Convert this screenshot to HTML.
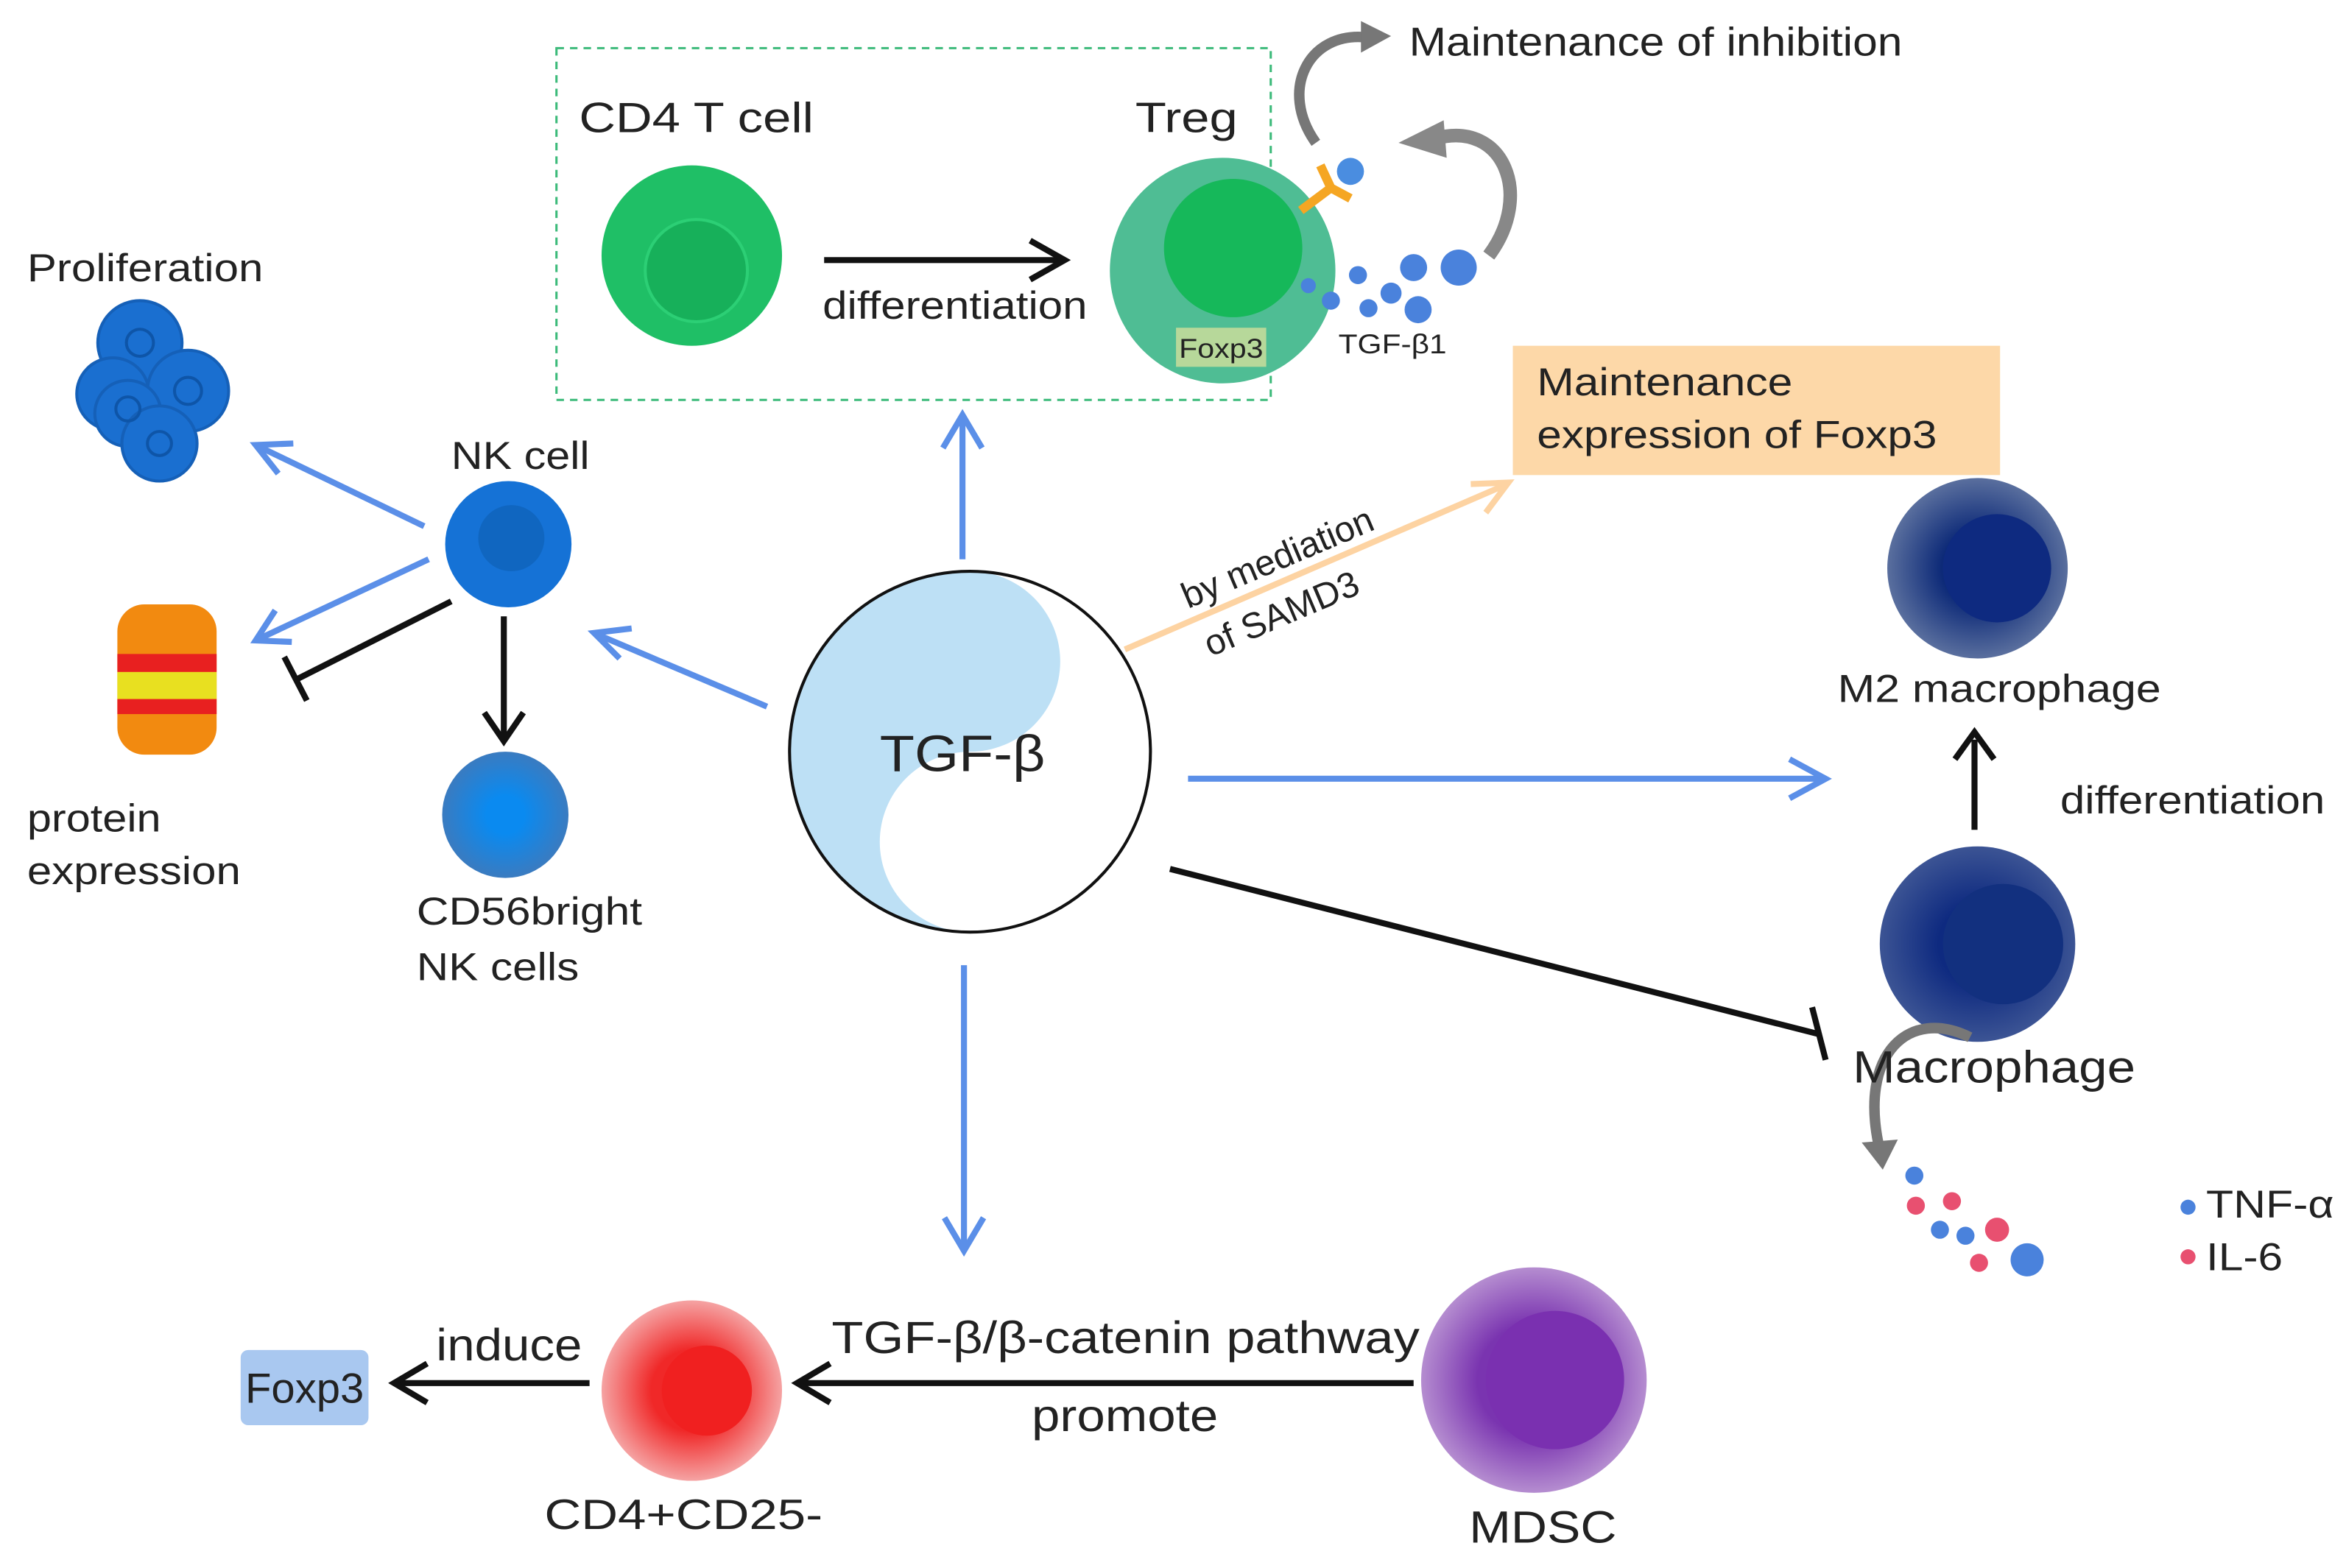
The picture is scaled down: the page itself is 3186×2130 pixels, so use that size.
<!DOCTYPE html>
<html><head><meta charset="utf-8"><style>
html,body{margin:0;padding:0;background:#fff;}
svg{display:block;}
text{font-family:"Liberation Sans",sans-serif;fill:#222;}
</style></head><body>
<svg width="3186" height="2130" viewBox="0 0 1560 1043" xmlns="http://www.w3.org/2000/svg">
<defs>
<radialGradient id="dB"><stop offset="0.4" stop-color="#0e2a80"/><stop offset="1" stop-color="#3c5494"/></radialGradient>
<radialGradient id="dB2"><stop offset="0.4" stop-color="#0d2a78"/><stop offset="1" stop-color="#5a6f9e"/></radialGradient>
<radialGradient id="rd"><stop offset="0.45" stop-color="#f02828"/><stop offset="1" stop-color="#f5a3a3"/></radialGradient>
<radialGradient id="pu"><stop offset="0.5" stop-color="#7a34b0"/><stop offset="1" stop-color="#b58dd0"/></radialGradient>
<radialGradient id="bl"><stop offset="0.3" stop-color="#0a8af0"/><stop offset="1" stop-color="#3a7bc0"/></radialGradient>
</defs>

<rect x="370" y="32" width="475" height="234" fill="none" stroke="#3cba7a" stroke-width="1.5" stroke-dasharray="5,4"/>
<text x="385" y="88" font-size="28" textLength="156" lengthAdjust="spacingAndGlyphs">CD4 T cell</text>
<circle cx="460" cy="170" r="60" fill="#1fbf66"/>
<circle cx="463" cy="180" r="34" fill="#17b05a" stroke="#2ccf75" stroke-width="2"/>
<line x1="548" y1="173" x2="705" y2="173" stroke="#111" stroke-width="4"/>
<path d="M685,160 L708,173 L685,186" fill="none" stroke="#111" stroke-width="4"/>
<text x="547" y="212" font-size="26" textLength="176" lengthAdjust="spacingAndGlyphs">differentiation</text>
<text x="755" y="88" font-size="28" textLength="68" lengthAdjust="spacingAndGlyphs">Treg</text>
<circle cx="813" cy="180" r="75" fill="#4fbd94"/>
<circle cx="820" cy="165" r="46" fill="#16b85a"/>
<rect x="782" y="218" width="60" height="26" fill="#b7d89a"/>
<text x="784" y="238" font-size="18" textLength="56" lengthAdjust="spacingAndGlyphs">Foxp3</text>
<path d="M865,140 L885,125 M885,125 L878,110 M885,125 L898,132" stroke="#f5a623" stroke-width="6" fill="none"/>
<circle cx="898" cy="114" r="9" fill="#4a8de0"/>
<g fill="#4a82dc">
<circle cx="870" cy="190" r="5"/><circle cx="885" cy="200" r="6"/><circle cx="903" cy="183" r="6"/><circle cx="910" cy="205" r="6"/><circle cx="925" cy="195" r="7"/><circle cx="940" cy="178" r="9"/><circle cx="943" cy="206" r="9"/><circle cx="970" cy="178" r="12"/>
</g>
<text x="890" y="235" font-size="18" textLength="72" lengthAdjust="spacingAndGlyphs">TGF-β1</text>
<path d="M875,95 C850,60 870,20 910,25" fill="none" stroke="#777" stroke-width="7"/>
<path d="M905,14 L925,24 L905,35 Z" fill="#777"/>
<path d="M990,170 C1020,130 1000,80 955,92" fill="none" stroke="#888" stroke-width="9"/>
<path d="M960,80 L930,95 L962,105 Z" fill="#888"/>
<text x="937" y="37" font-size="27" textLength="328" lengthAdjust="spacingAndGlyphs">Maintenance of inhibition</text>

<rect x="1006" y="230" width="324" height="86" fill="#fdd8a8"/>
<text x="1022" y="263" font-size="26" textLength="170" lengthAdjust="spacingAndGlyphs">Maintenance</text>
<text x="1022" y="298" font-size="26" textLength="266" lengthAdjust="spacingAndGlyphs">expression of Foxp3</text>

<circle cx="1315" cy="378" r="60" fill="url(#dB2)"/>
<circle cx="1328" cy="378" r="36" fill="#0e2a80"/>
<text x="1222" y="467" font-size="26" textLength="215" lengthAdjust="spacingAndGlyphs">M2 macrophage</text>
<line x1="1313" y1="552" x2="1313" y2="492" stroke="#111" stroke-width="4"/>
<path d="M1300,505 L1313,487 L1326,505" fill="none" stroke="#111" stroke-width="4"/>
<text x="1370" y="541" font-size="26" textLength="176" lengthAdjust="spacingAndGlyphs">differentiation</text>
<circle cx="1315" cy="628" r="65" fill="url(#dB)"/>
<circle cx="1332" cy="628" r="40" fill="#12307f"/>
<path d="M1310,690 C1270,670 1235,700 1250,765" fill="none" stroke="#777" stroke-width="7"/>
<path d="M1238,760 L1252,778 L1262,758 Z" fill="#777"/>
<text x="1232" y="720" font-size="30" textLength="188" lengthAdjust="spacingAndGlyphs">Macrophage</text>
<circle cx="1273" cy="782" r="6" fill="#4a82dc"/>
<circle cx="1274" cy="802" r="6" fill="#e85070"/><circle cx="1298" cy="799" r="6" fill="#e85070"/>
<circle cx="1290" cy="818" r="6" fill="#4a82dc"/><circle cx="1307" cy="822" r="6" fill="#4a82dc"/>
<circle cx="1328" cy="818" r="8" fill="#e85070"/><circle cx="1316" cy="840" r="6" fill="#e85070"/>
<circle cx="1348" cy="838" r="11" fill="#4a82dc"/>
<circle cx="1455" cy="803" r="5" fill="#4a82dc"/><text x="1467" y="810" font-size="26" textLength="85" lengthAdjust="spacingAndGlyphs">TNF-α</text>
<circle cx="1455" cy="836" r="5" fill="#e85070"/><text x="1467" y="845" font-size="26" textLength="51" lengthAdjust="spacingAndGlyphs">IL-6</text>

<circle cx="645" cy="500" r="120" fill="#fff"/>
<path d="M645,380 A120,120 0 0 0 645,620 A60,60 0 0 1 645,500 A60,60 0 0 0 645,380 Z" fill="#bde0f5"/>
<circle cx="645" cy="500" r="120" fill="none" stroke="#111" stroke-width="2"/>
<text x="585" y="513" font-size="34" textLength="110" lengthAdjust="spacingAndGlyphs">TGF-β</text>

<g stroke="#5b8fe8" stroke-width="4" fill="none">
<line x1="640" y1="372" x2="640" y2="278"/><path d="M627,298 L640,276 L653,298"/>
<line x1="790" y1="518" x2="1212" y2="518"/><path d="M1190,505 L1214,518 L1190,531"/>
<line x1="641" y1="642" x2="641" y2="830"/><path d="M628,810 L641,832 L654,810"/>
<line x1="510" y1="470" x2="397" y2="422"/><path d="M412,438 L395,421 L420,418"/>
<line x1="282" y1="350" x2="172" y2="297"/><path d="M185,315 L170,296 L195,295"/>
<line x1="285" y1="372" x2="172" y2="425"/><path d="M194,427 L170,426 L183,406"/>
</g>
<g stroke="#fdd3a2" stroke-width="4" fill="none">
<line x1="748" y1="432" x2="1000" y2="323"/><path d="M978,322 L1003,321 L988,341"/>
</g>
<g transform="translate(790,405) rotate(-23)"><text font-size="24">by mediation</text></g>
<g transform="translate(805,437) rotate(-23)"><text font-size="24">of SAMD3</text></g>
<line x1="778" y1="578" x2="1210" y2="688" stroke="#111" stroke-width="4"/>
<line x1="1205" y1="670" x2="1214" y2="705" stroke="#111" stroke-width="4"/>

<text x="300" y="312" font-size="26" textLength="92" lengthAdjust="spacingAndGlyphs">NK cell</text>
<circle cx="338" cy="362" r="42" fill="#1572d6"/>
<circle cx="340" cy="358" r="22" fill="#1066c0"/>
<line x1="300" y1="400" x2="197" y2="452" stroke="#111" stroke-width="4"/>
<line x1="189" y1="437" x2="204" y2="466" stroke="#111" stroke-width="4"/>
<line x1="335" y1="410" x2="335" y2="490" stroke="#111" stroke-width="4"/>
<path d="M322,474 L335,493 L348,474" fill="none" stroke="#111" stroke-width="4"/>
<circle cx="336" cy="542" r="42" fill="url(#bl)"/>
<text x="277" y="615" font-size="26" textLength="150" lengthAdjust="spacingAndGlyphs">CD56bright</text>
<text x="277" y="652" font-size="26" textLength="108" lengthAdjust="spacingAndGlyphs">NK cells</text>

<text x="18" y="187" font-size="26" textLength="157" lengthAdjust="spacingAndGlyphs">Proliferation</text>
<g fill="#1a6fd0" stroke="#1560b8" stroke-width="2">
<circle cx="93" cy="228" r="28"/><circle cx="75" cy="262" r="24"/><circle cx="125" cy="260" r="27"/><circle cx="85" cy="275" r="22"/><circle cx="106" cy="295" r="25"/>
</g>
<g fill="none" stroke="#0e55a8" stroke-width="2">
<circle cx="93" cy="228" r="9"/><circle cx="125" cy="260" r="9"/><circle cx="85" cy="272" r="8"/><circle cx="106" cy="295" r="8"/>
</g>
<rect x="78" y="402" width="66" height="100" rx="18" fill="#f28a10"/>
<rect x="78" y="435" width="66" height="12" fill="#e82020"/>
<rect x="78" y="447" width="66" height="18" fill="#e8e020"/>
<rect x="78" y="465" width="66" height="10" fill="#e82020"/>
<text x="18" y="553" font-size="26" textLength="89" lengthAdjust="spacingAndGlyphs">protein</text>
<text x="18" y="588" font-size="26" textLength="142" lengthAdjust="spacingAndGlyphs">expression</text>

<circle cx="1020" cy="918" r="75" fill="url(#pu)"/>
<circle cx="1034" cy="918" r="46" fill="#7a30b0"/>
<text x="977" y="1026" font-size="30" textLength="98" lengthAdjust="spacingAndGlyphs">MDSC</text>
<line x1="940" y1="920" x2="532" y2="920" stroke="#111" stroke-width="4"/>
<path d="M552,907 L530,920 L552,933" fill="none" stroke="#111" stroke-width="4"/>
<text x="553" y="900" font-size="30" textLength="391" lengthAdjust="spacingAndGlyphs">TGF-β/β-catenin pathway</text>
<text x="686" y="952" font-size="30" textLength="124" lengthAdjust="spacingAndGlyphs">promote</text>
<circle cx="460" cy="925" r="60" fill="url(#rd)"/>
<circle cx="470" cy="925" r="30" fill="#f02020"/>
<text x="362" y="1017" font-size="28" textLength="185" lengthAdjust="spacingAndGlyphs">CD4+CD25-</text>
<line x1="392" y1="920" x2="264" y2="920" stroke="#111" stroke-width="4"/>
<path d="M284,907 L262,920 L284,933" fill="none" stroke="#111" stroke-width="4"/>
<text x="290" y="905" font-size="30" textLength="97" lengthAdjust="spacingAndGlyphs">induce</text>
<rect x="160" y="898" width="85" height="50" rx="5" fill="#a9c8f0"/>
<text x="163" y="933" font-size="28" textLength="79" lengthAdjust="spacingAndGlyphs">Foxp3</text>
</svg>
</body></html>
